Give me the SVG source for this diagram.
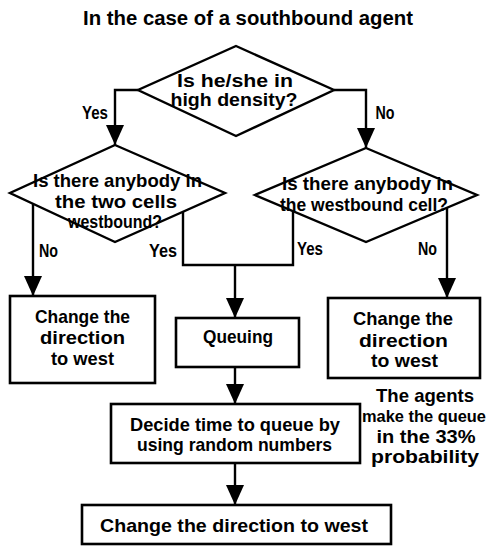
<svg xmlns="http://www.w3.org/2000/svg" width="491" height="546" viewBox="0 0 491 546">
<defs>
<style>
.shape{fill:#fff;stroke:#000;stroke-width:2.4}
.box{fill:#fff;stroke:#000;stroke-width:2.6}
.conn{fill:none;stroke:#000;stroke-width:2.4}
text{font-family:"Liberation Sans","Arial",sans-serif;font-weight:bold;font-size:19px;fill:#000;text-anchor:middle}
.title{font-size:20px}
.lbl{font-size:18px}
.narrow{font-size:16.5px}
</style>
<marker id="arr" markerUnits="userSpaceOnUse" markerWidth="20" markerHeight="20" refX="20" refY="9" orient="auto">
<path d="M0,0 L20,9 L0,18 Z" fill="#000"/>
</marker>
</defs>
<rect width="491" height="546" fill="#fff"/>
<text class="title" x="248" y="25" textLength="330" lengthAdjust="spacingAndGlyphs">In the case of a southbound agent</text>

<g id="connectors">
<polyline class="conn" points="138,90 115,90 115,145" marker-end="url(#arr)"/>
<polyline class="conn" points="334,90 366,90 366,148" marker-end="url(#arr)"/>
<line class="conn" x1="33" y1="204" x2="33" y2="296" marker-end="url(#arr)"/>
<polyline class="conn" points="183,210 183,265 293,265 293,211"/>
<line class="conn" x1="235" y1="265" x2="235" y2="318" marker-end="url(#arr)"/>
<line class="conn" x1="447" y1="208" x2="447" y2="298" marker-end="url(#arr)"/>
<line class="conn" x1="235" y1="367" x2="235" y2="404" marker-end="url(#arr)"/>
<line class="conn" x1="235" y1="463" x2="235" y2="505" marker-end="url(#arr)"/>
<text class="lbl" x="95" y="119" textLength="26" lengthAdjust="spacingAndGlyphs">Yes</text>
<text class="lbl" x="385" y="119" textLength="19" lengthAdjust="spacingAndGlyphs">No</text>
<text class="lbl" x="48.5" y="257" textLength="19" lengthAdjust="spacingAndGlyphs">No</text>
<text class="lbl" x="163" y="257" textLength="28" lengthAdjust="spacingAndGlyphs">Yes</text>
<text class="lbl" x="310" y="255" textLength="26" lengthAdjust="spacingAndGlyphs">Yes</text>
<text class="lbl" x="427.5" y="255" textLength="19" lengthAdjust="spacingAndGlyphs">No</text>
</g>

<g id="q-density">
<polygon class="shape" points="236,46 334,90 236,136 138,90"/>
<text x="235" y="87" textLength="116" lengthAdjust="spacingAndGlyphs">Is he/she in</text>
<text x="234" y="106" textLength="127" lengthAdjust="spacingAndGlyphs">high density?</text>
</g>

<g id="q-two-cells">
<polygon class="shape" points="115,145 225,193 115,242 10,193"/>
<text x="117.5" y="187" textLength="169" lengthAdjust="spacingAndGlyphs">Is there anybody in</text>
<text x="116" y="208" textLength="122" lengthAdjust="spacingAndGlyphs">the two cells</text>
<text x="115" y="228" textLength="94" lengthAdjust="spacingAndGlyphs">westbound?</text>
</g>

<g id="q-westbound-cell">
<polygon class="shape" points="366,148 477,195 366,242 255,195"/>
<text x="367.5" y="190" textLength="171" lengthAdjust="spacingAndGlyphs">Is there anybody in</text>
<text x="364" y="211" textLength="168" lengthAdjust="spacingAndGlyphs">the westbound cell?</text>
</g>

<g id="change-left">
<rect class="box" x="10" y="296" width="145" height="87"/>
<text x="82.5" y="323" textLength="95" lengthAdjust="spacingAndGlyphs">Change the</text>
<text x="82.5" y="344" textLength="85" lengthAdjust="spacingAndGlyphs">direction</text>
<text x="82.5" y="365" textLength="63" lengthAdjust="spacingAndGlyphs">to west</text>
</g>

<g id="queuing">
<rect class="box" x="176" y="318" width="123" height="49"/>
<text x="238" y="343" textLength="70" lengthAdjust="spacingAndGlyphs">Queuing</text>
</g>

<g id="change-right">
<rect class="box" x="328" y="298" width="152" height="80"/>
<text x="403" y="325" textLength="100" lengthAdjust="spacingAndGlyphs">Change the</text>
<text x="403.5" y="347" textLength="89" lengthAdjust="spacingAndGlyphs">direction</text>
<text x="404.5" y="367" textLength="67" lengthAdjust="spacingAndGlyphs">to west</text>
</g>

<g id="note">
<text x="425" y="402" textLength="98" lengthAdjust="spacingAndGlyphs">The agents</text>
<text class="narrow" x="424" y="422" textLength="124" lengthAdjust="spacingAndGlyphs">make the queue</text>
<text x="426" y="443" textLength="99" lengthAdjust="spacingAndGlyphs">in the 33%</text>
<text x="425" y="463" textLength="108" lengthAdjust="spacingAndGlyphs">probability</text>
</g>

<g id="decide">
<rect class="box" x="111" y="404" width="249" height="59"/>
<text x="235" y="431" textLength="210" lengthAdjust="spacingAndGlyphs">Decide time to queue by</text>
<text x="234.5" y="451" textLength="195" lengthAdjust="spacingAndGlyphs">using random numbers</text>
</g>

<g id="change-final">
<rect class="box" x="82" y="505" width="309" height="39"/>
<text x="234" y="532" textLength="268" lengthAdjust="spacingAndGlyphs">Change the direction to west</text>
</g>
</svg>
